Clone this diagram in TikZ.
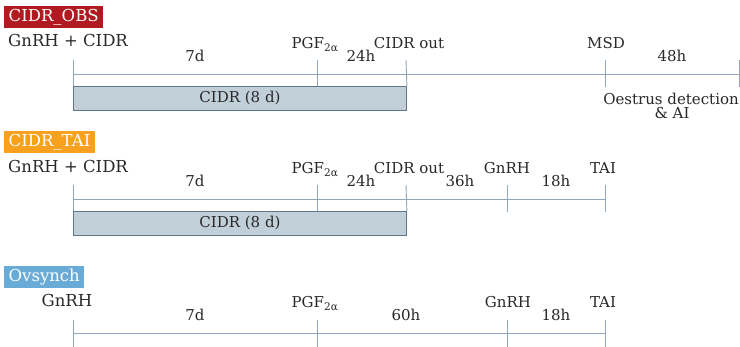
\documentclass[tikz,border=0pt]{standalone}
\usepackage{fontspec}
\setmainfont{DejaVu Serif}
\definecolor{tlc}{RGB}{143,165,185}
\definecolor{boxfill}{RGB}{193,207,217}
\definecolor{boxedge}{RGB}{95,118,138}
\definecolor{obsred}{RGB}{176,26,32}
\definecolor{taiorange}{RGB}{247,161,30}
\definecolor{ovblue}{RGB}{104,171,214}
\definecolor{txt}{RGB}{40,40,40}
\tikzset{
  tl/.style={draw=tlc, line width=0.9pt},
  lbl/.style={font=\fontsize{15}{17}\selectfont, text=txt, inner sep=0pt, anchor=base},
  big/.style={font=\fontsize{16.5}{18}\selectfont, text=txt, inner sep=0pt, anchor=base},
  title/.style={font=\fontsize{16.5}{18}\selectfont, text=white, inner xsep=4.5pt, inner ysep=0pt,
     text height=12pt, text depth=4pt, minimum height=22pt, anchor=north west},
  cidrbox/.style={draw=boxedge, fill=boxfill, line width=0.9pt, minimum width=333pt, minimum height=24pt,
     inner sep=0pt, anchor=north west, font=\fontsize{15}{17}\selectfont, text=txt},
}
\newcommand{\pgftwo}{PGF\textsubscript{2α}}
\begin{document}
\begin{tikzpicture}[x=1pt,y=-1pt]
\useasboundingbox (0,0) rectangle (740,347);
% ---------------- Row 1: CIDR_OBS (line y=74)
\node[title, fill=obsred] (t1) at (4,6) {CIDR\_OBS};
\node[big, anchor=base west] (g1) at (8,47) {GnRH + CIDR};
\node[cidrbox] (b1) at (73,86) {CIDR (8 d)};
\coordinate (s1) at (73,74);
\coordinate (e1) at (739,74);
\draw[tl] (s1) -- (e1);
\draw[tl] (73,60) -- (b1.north west);
\draw[tl] (317,60) -- (317,86);
\draw[tl] (406,60) -- (b1.north east);
\draw[tl] (605,60) -- (605,87);
\draw[tl] (739,60) -- (739,87);
\node[lbl] (d1) at (195,62) {7d};
\node[lbl] (p1) at (315,49) {\pgftwo};
\node[lbl] (h1) at (361,62) {24h};
\node[lbl] (c1) at (409,49) {CIDR out};
\node[lbl] (m1) at (606,49) {MSD};
\node[lbl] (f1) at (672,62) {48h};
\node[lbl] (o1) at (671,105) {Oestrus detection};
\node[lbl] (a1) at (672,119) {\& AI};
% ---------------- Row 2: CIDR_TAI (line y=199)
\node[title, fill=taiorange] (t2) at (4,131) {CIDR\_TAI};
\node[big, anchor=base west] (g2) at (8,173) {GnRH + CIDR};
\node[cidrbox] (b2) at (73,211) {CIDR (8 d)};
\coordinate (s2) at (73,199);
\coordinate (e2) at (605,199);
\draw[tl] (s2) -- (e2);
\draw[tl] (73,185) -- (b2.north west);
\draw[tl] (317,185) -- (317,211);
\draw[tl] (406,185) -- (b2.north east);
\draw[tl] (507,185) -- (507,212);
\draw[tl] (605,185) -- (605,212);
\node[lbl] (d2) at (195,187) {7d};
\node[lbl] (p2) at (315,174) {\pgftwo};
\node[lbl] (h2) at (361,187) {24h};
\node[lbl] (c2) at (409,174) {CIDR out};
\node[lbl] (k2) at (460,187) {36h};
\node[lbl] (n2) at (507,174) {GnRH};
\node[lbl] (e18) at (556,187) {18h};
\node[lbl] (ta2) at (603,174) {TAI};
% ---------------- Row 3: Ovsynch (line y=333)
\node[title, fill=ovblue] (t3) at (4,266) {Ovsynch};
\node[big] (g3) at (67,307) {GnRH};
\coordinate (s3) at (73,333);
\coordinate (e3) at (605,333);
\draw[tl] (s3) -- (e3);
\draw[tl] (73,320) -- (73,347);
\draw[tl] (317,320) -- (317,347);
\draw[tl] (507,320) -- (507,347);
\draw[tl] (605,320) -- (605,347);
\node[lbl] (d3) at (195,321) {7d};
\node[lbl] (p3) at (315,308) {\pgftwo};
\node[lbl] (x3) at (406,321) {60h};
\node[lbl] (n3) at (508,308) {GnRH};
\node[lbl] (f3) at (556,321) {18h};
\node[lbl] (ta3) at (603,308) {TAI};
\end{tikzpicture}
\end{document}
